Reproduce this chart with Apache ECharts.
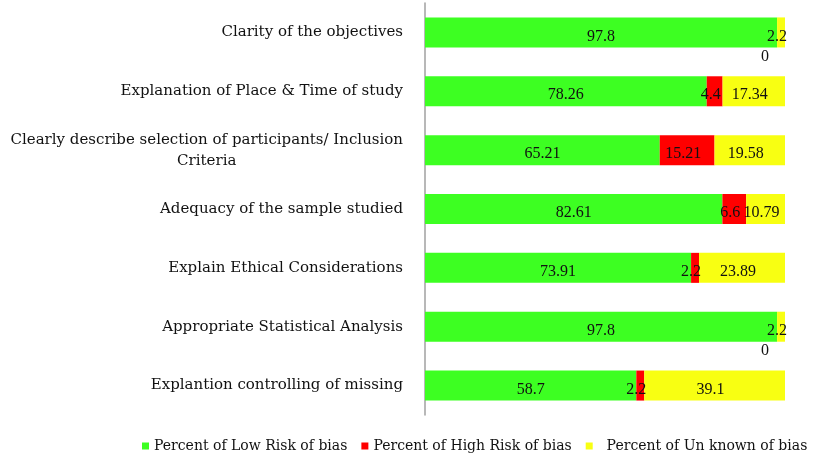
<!DOCTYPE html>
<html>
<head>
<meta charset="utf-8">
<script src="https://cdn.jsdelivr.net/npm/echarts@6/dist/echarts.min.js"></script>
<style>html,body{margin:0;padding:0;background:#fff;}#c{width:819px;height:475px;}</style>
</head>
<body>
<div id="c"></div>
<script>
const categories = [
  "Clarity of the objectives",
  "Explanation of Place & Time of study",
  "Clearly describe selection of participants/ Inclusion\nCriteria",
  "Adequacy of the sample studied",
  "Explain Ethical Considerations",
  "Appropriate Statistical Analysis",
  "Explantion controlling of missing"
];
const seriesNames = ["Percent of Low Risk of bias", "Percent of High Risk of bias", "Percent of Un known of bias"];
const lowRisk = [97.8, 78.26, 65.21, 82.61, 73.91, 97.8, 58.7];
const highRisk = [0, 4.4, 15.21, 6.6, 2.2, 0, 2.2];
const unknownRisk = [2.2, 17.34, 19.58, 10.79, 23.89, 2.2, 39.1];

const FONT = "Liberation Serif";
const LABEL_FONT = "DejaVu Serif";
const colors = ["#3dff22", "#ff0000", "#f8ff12"];

function mkData(arr, zeroOffset) {
  return arr.map(v => {
    if (v === 0 && zeroOffset) {
      return { value: v, label: { offset: zeroOffset } };
    }
    return v;
  });
}

function mkSeries(name, arr, color, offset, zeroOffset) {
  return {
    name: name,
    type: 'bar',
    stack: 'total',
    barWidth: '51%',
    itemStyle: { color: color },
    label: {
      show: true,
      position: 'inside',
      color: '#111',
      fontFamily: FONT,
      fontSize: 16,
      offset: offset,
      formatter: p => String(p.value)
    },
    data: mkData(arr, zeroOffset)
  };
}

const chart = echarts.init(document.getElementById('c'), null, { renderer: 'canvas' });
chart.setOption({
  animation: false,
  backgroundColor: '#fff',
  grid: { left: 425, right: 34, top: 3, bottom: 60, containLabel: false, outerBoundsMode: 'none' },
  legend: {
    left: 137,
    top: 434,
    icon: 'rect',
    itemWidth: 7,
    itemHeight: 7,
    itemGap: 14,
    textStyle: { fontFamily: LABEL_FONT, fontSize: 14, color: '#111' },
    formatter: n => n === seriesNames[2] ? '  ' + n : n,
    data: seriesNames
  },
  xAxis: {
    type: 'value', min: 0, max: 100, show: false
  },
  yAxis: {
    type: 'category',
    inverse: true,
    data: categories,
    axisLine: { show: true, lineStyle: { color: '#a0a0a0', width: 1.5 } },
    axisTick: { show: false },
    axisLabel: {
      margin: 22,
      fontFamily: LABEL_FONT,
      fontSize: 15,
      color: '#111',
      lineHeight: 21,
      formatter: v => v.indexOf('\n') >= 0 ? '{c|' + v.split('\n').join('}\n{c|') + '}' : v,
      rich: { c: { align: 'center', fontFamily: LABEL_FONT, fontSize: 15, color: '#111', lineHeight: 21 } }
    }
  },
  series: [
    mkSeries(seriesNames[0], lowRisk, colors[0], [0, 4]),
    mkSeries(seriesNames[1], highRisk, colors[1], [-4, 4], [-12, 24]),
    mkSeries(seriesNames[2], unknownRisk, colors[2], [-4, 4])
  ]
});
</script>
</body>
</html>
